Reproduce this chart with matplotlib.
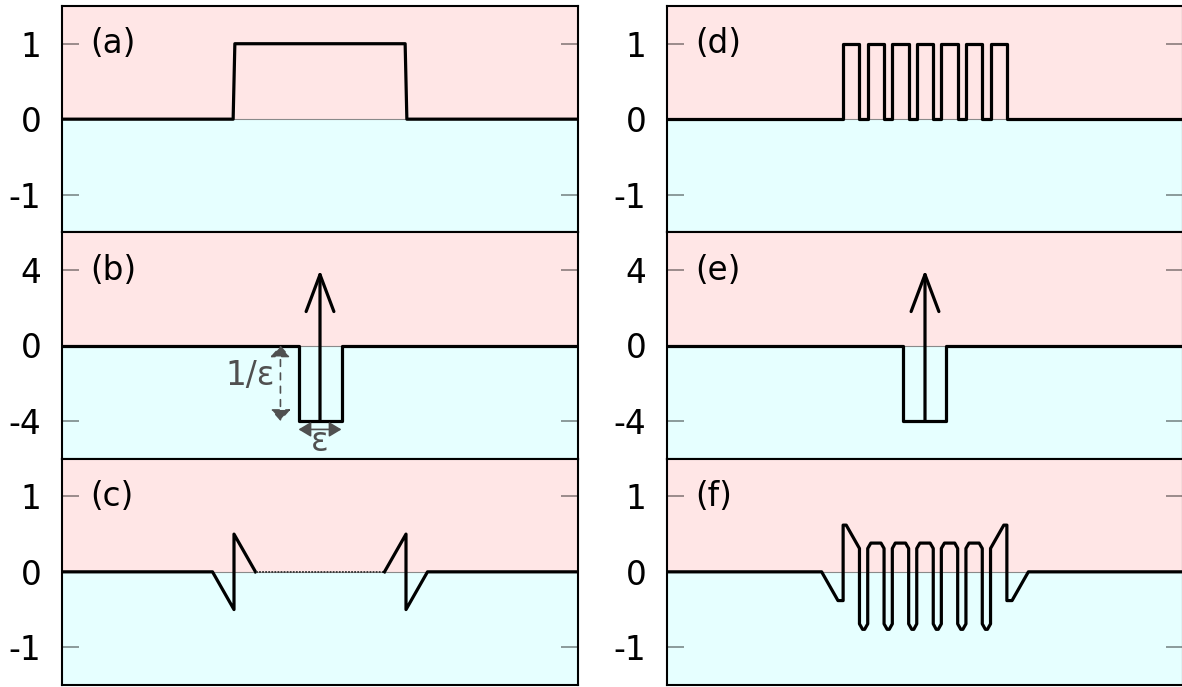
import matplotlib
matplotlib.use("Agg")
import matplotlib.pyplot as plt
import matplotlib.transforms as mtransforms

# ---------------- data ----------------
x_range = [-1.5, 1.5]

# (a) single rectangle
a_x = [-1.5, -0.505, -0.495, 0.495, 0.505, 1.5]
a_y = [0, 0, 1, 1, 0, 0]

# (b)/(e) kernel: delta minus box of width eps and height 1/eps
eps = 0.25
b_x = [-1.5, -0.125, -0.125, 0.125, 0.125, 1.5]
b_y = [0, 0, -4, -4, 0, 0]
delta_x = 0.0
delta_top = 4
well_bottom = -4

# (c) rectangle filtered by kernel
c_x = [-1.5, -0.625, -0.5, -0.5, -0.375, 0.375, 0.5, 0.5, 0.625, 1.5]
c_y = [0, 0, -0.5, 0.5, 0, 0, 0.5, -0.5, 0, 0]

# (d) pulse train
d_x = [-1.5, -0.476, -0.476, -0.381, -0.381, -0.333, -0.333, -0.238, -0.238,
       -0.190, -0.190, -0.095, -0.095, -0.048, -0.048, 0.048, 0.048, 0.095,
       0.095, 0.190, 0.190, 0.238, 0.238, 0.333, 0.333, 0.381, 0.381, 0.476,
       0.476, 1.5]
d_y = [0, 0, 1, 1, 0, 0, 1, 1, 0, 0, 1, 1, 0, 0, 1, 1, 0, 0, 1, 1, 0, 0,
       1, 1, 0, 0, 1, 1, 0, 0]

# (f) pulse train filtered by kernel
f_x = [-1.5, -0.601, -0.506, -0.476, -0.476, -0.458, -0.381, -0.381, -0.363,
       -0.351, -0.333, -0.333, -0.315, -0.256, -0.238, -0.238, -0.220, -0.208,
       -0.190, -0.190, -0.173, -0.113, -0.095, -0.095, -0.077, -0.065, -0.048,
       -0.048, -0.030,
       0.030, 0.048, 0.048, 0.065, 0.077, 0.095, 0.095, 0.113, 0.173, 0.190,
       0.190, 0.208, 0.220, 0.238, 0.238, 0.256, 0.315, 0.333, 0.333, 0.351,
       0.363, 0.381, 0.381, 0.458, 0.476, 0.476, 0.506, 0.601, 1.5]
f_y = [0, 0, -0.381, -0.381, 0.619, 0.619, 0.310, -0.690, -0.762,
       -0.762, -0.690, 0.310, 0.381, 0.381, 0.310, -0.690, -0.762, -0.762,
       -0.690, 0.310, 0.381, 0.381, 0.310, -0.690, -0.762, -0.762, -0.690,
       0.310, 0.381,
       0.381, 0.310, -0.690, -0.762, -0.762, -0.690, 0.310, 0.381, 0.381, 0.310,
       -0.690, -0.762, -0.762, -0.690, 0.310, 0.381, 0.381, 0.310, -0.690, -0.762,
       -0.762, -0.690, 0.310, 0.619, 0.619, -0.381, -0.381, 0, 0]

panel_labels = ["(a)", "(b)", "(c)", "(d)", "(e)", "(f)"]
small_ticks = [-1, 0, 1]
small_tick_labels = ["-1", "0", "1"]
big_ticks = [-4, 0, 4]
big_tick_labels = ["-4", "0", "4"]
small_ylim = [-1.5, 1.5]
big_ylim = [-6, 6]

# ---------------- style ----------------
PINK = "#FFE6E6"
CYAN = "#E6FFFF"
LINE_LW = 2.3
ANN = "#505050"
FS = 23.5

W, H = 1182, 687
fig = plt.figure(figsize=(W / 100, H / 100), dpi=100)

col_x = [62, 667]
ax_w = 516
top_px, bot_px = 6, 685
row_h = (bot_px - top_px) / 3.0


def make_ax(col, row):
    x0 = col_x[col] / W
    y0 = (H - (top_px + (row + 1) * row_h)) / H
    return fig.add_axes([x0, y0, ax_w / W, row_h / H])


def style_ax(ax, ylim, ticks, labels, label, label_y):
    ax.set_xlim(x_range)
    ax.set_ylim(ylim)
    ax.axhspan(0, ylim[1], color=PINK, zorder=0, lw=0)
    ax.axhspan(ylim[0], 0, color=CYAN, zorder=0, lw=0)
    ax.axhline(0, color="#8a8a8a", lw=0.8, zorder=1)
    ax.set_xticks([])
    ax.set_yticks(ticks)
    ax.set_yticklabels(labels)
    ax.tick_params(axis="y", direction="in", length=12, width=1.1,
                   color=(0, 0, 0, 0.5), left=True, right=True,
                   labelsize=FS, pad=15)
    for s in ax.spines.values():
        s.set_linewidth(1.5)
        s.set_color("black")
    trans = mtransforms.blended_transform_factory(ax.transAxes, ax.transData)
    ax.text(0.055, label_y, label, transform=trans, fontsize=FS,
            ha="left", va="center", zorder=5)


def draw_kernel(ax, annotate):
    ax.plot(b_x, b_y, color="black", lw=LINE_LW, zorder=3)
    ax.annotate("", xy=(delta_x, delta_top), xytext=(delta_x, well_bottom),
                arrowprops=dict(arrowstyle="->,head_length=2.66,head_width=1.0",
                                mutation_scale=10, lw=LINE_LW, color="black",
                                shrinkA=0, shrinkB=0), zorder=4)
    if annotate:
        ax.annotate("", xy=(-0.23, 0), xytext=(-0.23, well_bottom),
                    arrowprops=dict(arrowstyle="<|-|>,head_length=0.7,head_width=0.62",
                                    mutation_scale=10, lw=1.2, color=ANN,
                                    linestyle=(0, (4, 4)),
                                    shrinkA=0, shrinkB=0), zorder=4)
        ax.text(-0.26, -1.6, "1/ε", color=ANN, fontsize=FS, ha="right",
                va="center", zorder=5)
        ax.annotate("", xy=(-eps / 2, -4.45), xytext=(eps / 2, -4.45),
                    arrowprops=dict(arrowstyle="<|-|>,head_length=0.75,head_width=0.45",
                                    mutation_scale=10, lw=1.2, color=ANN,
                                    shrinkA=0, shrinkB=0), zorder=4)
        ax.text(0, -5.6, "ε", color=ANN, fontsize=FS, ha="center",
                va="baseline", zorder=5)


# (a)
ax = make_ax(0, 0)
style_ax(ax, small_ylim, small_ticks, small_tick_labels, panel_labels[0], 1)
ax.plot(a_x, a_y, color="black", lw=LINE_LW, zorder=3)

# (b)
ax = make_ax(0, 1)
style_ax(ax, big_ylim, big_ticks, big_tick_labels, panel_labels[1], 4)
draw_kernel(ax, True)

# (c)
ax = make_ax(0, 2)
style_ax(ax, small_ylim, small_ticks, small_tick_labels, panel_labels[2], 1)
ax.plot(c_x[:5], c_y[:5], color="black", lw=LINE_LW, zorder=3)
ax.plot(c_x[4:6], c_y[4:6], color="#333333", lw=1.3,
        linestyle=(0, (1, 0.7)), zorder=3)
ax.plot(c_x[5:], c_y[5:], color="black", lw=LINE_LW, zorder=3)

# (d)
ax = make_ax(1, 0)
style_ax(ax, small_ylim, small_ticks, small_tick_labels, panel_labels[3], 1)
ax.plot(d_x, d_y, color="black", lw=LINE_LW, zorder=3)

# (e)
ax = make_ax(1, 1)
style_ax(ax, big_ylim, big_ticks, big_tick_labels, panel_labels[4], 4)
draw_kernel(ax, False)

# (f)
ax = make_ax(1, 2)
style_ax(ax, small_ylim, small_ticks, small_tick_labels, panel_labels[5], 1)
ax.plot(f_x, f_y, color="black", lw=LINE_LW, zorder=3)

fig.savefig("out.png", dpi=100)
